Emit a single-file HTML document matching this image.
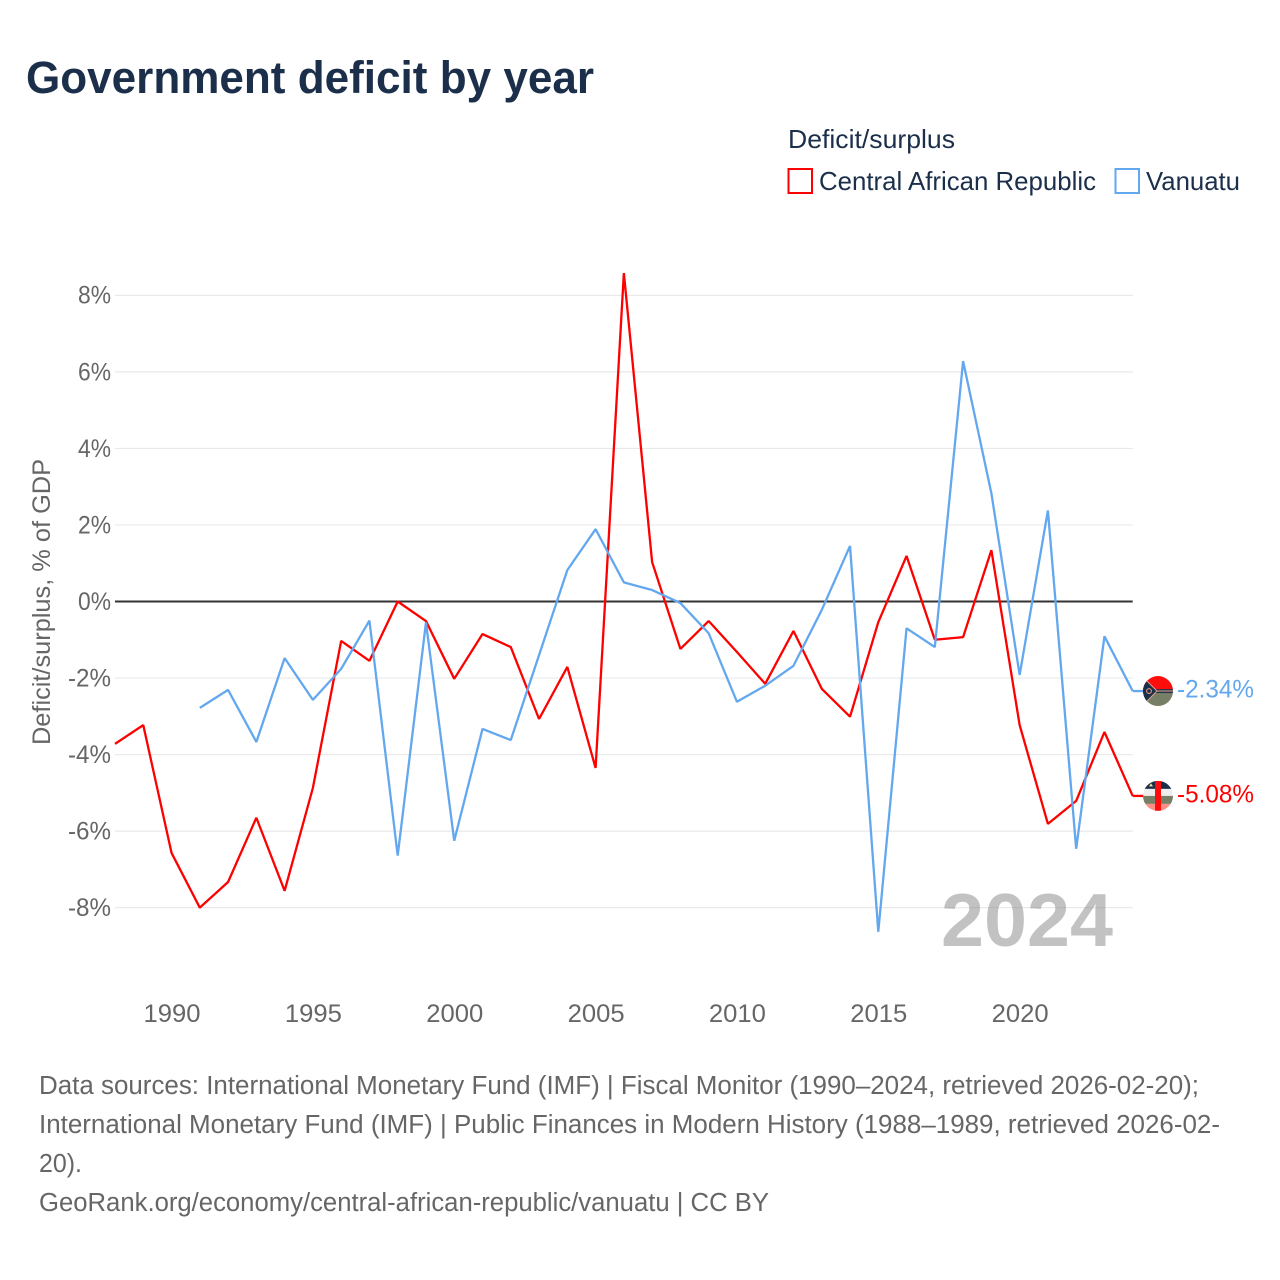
<!DOCTYPE html>
<html lang="en">
<head>
<meta charset="utf-8">
<title>Government deficit by year</title>
<style>
html,body{margin:0;padding:0;background:#fff;width:1280px;height:1280px;overflow:hidden}
svg{display:block;font-family:"Liberation Sans",sans-serif}
</style>
</head>
<body>
<svg id="chart" xmlns="http://www.w3.org/2000/svg" width="1280" height="1280" viewBox="0 0 1280 1280">
  <rect width="1280" height="1280" fill="#fff"/>
  <text x="26" y="93" font-size="45" font-weight="700" fill="#1b2f4b" textLength="568" lengthAdjust="spacingAndGlyphs">Government deficit by year</text>

  <g fill="#1b2f4b" font-size="26">
    <text x="788" y="148" textLength="167" lengthAdjust="spacingAndGlyphs">Deficit/surplus</text>
    <rect x="788.5" y="169" width="23.5" height="24" fill="#fff" stroke="#ff0000" stroke-width="2"/>
    <text x="819" y="190" textLength="277" lengthAdjust="spacingAndGlyphs">Central African Republic</text>
    <rect x="1115.5" y="169" width="23.5" height="24" fill="#fff" stroke="#63a8ee" stroke-width="2"/>
    <text x="1146" y="190" textLength="94" lengthAdjust="spacingAndGlyphs">Vanuatu</text>
  </g>

  <text transform="translate(50,602) rotate(-90)" text-anchor="middle" font-size="25" fill="#666" textLength="286" lengthAdjust="spacingAndGlyphs">Deficit/surplus, % of GDP</text>

  <g id="grid"></g>
  <g id="yticks"></g>
  <g id="xticks"></g>

  <text x="941" y="946" font-size="75" font-weight="700" fill="#808080" fill-opacity="0.48" textLength="172" lengthAdjust="spacingAndGlyphs">2024</text>

  <g id="series"></g>
  <g id="ends"></g>

  <g font-size="25.5" fill="#666">
    <text x="39" y="1094" textLength="1160" lengthAdjust="spacingAndGlyphs">Data sources: International Monetary Fund (IMF) | Fiscal Monitor (1990–2024, retrieved 2026-02-20);</text>
    <text x="39" y="1133" textLength="1181" lengthAdjust="spacingAndGlyphs">International Monetary Fund (IMF) | Public Finances in Modern History (1988–1989, retrieved 2026-02-</text>
    <text x="39" y="1172" textLength="43" lengthAdjust="spacingAndGlyphs">20).</text>
    <text x="39" y="1211" textLength="730" lengthAdjust="spacingAndGlyphs">GeoRank.org/economy/central-african-republic/vanuatu | CC BY</text>
  </g>
</svg>
<script>
const years = [1988,1989,1990,1991,1992,1993,1994,1995,1996,1997,1998,1999,2000,2001,2002,2003,2004,2005,2006,2007,2008,2009,2010,2011,2012,2013,2014,2015,2016,2017,2018,2019,2020,2021,2022,2023,2024];
const carValues = [-3.72,-3.23,-6.57,-8.0,-7.33,-5.65,-7.56,-4.87,-1.03,-1.55,0,-0.51,-2.02,-0.85,-1.19,-3.07,-1.71,-4.35,8.58,1.03,-1.24,-0.51,-1.32,-2.15,-0.77,-2.28,-3.01,-0.54,1.19,-1.0,-0.93,1.34,-3.23,-5.81,-5.21,-3.41,-5.08];
const vanuatuValues = [null,null,null,-2.78,-2.31,-3.67,-1.48,-2.57,-1.76,-0.5,-6.64,-0.55,-6.25,-3.33,-3.62,-1.4,0.82,1.89,0.5,0.3,-0.04,-0.83,-2.62,-2.2,-1.68,-0.22,1.45,-8.63,-0.7,-1.19,6.28,2.83,-1.92,2.38,-6.46,-0.91,-2.34];
const xTickYears = [1990,1995,2000,2005,2010,2015,2020];
const yTickValues = [8,6,4,2,0,-2,-4,-6,-8];

const NS = 'http://www.w3.org/2000/svg';
const xScale = function (year) { return 115 + (year - 1988) * 28.27; };
const yScale = function (value) { return 601.5 - value * 38.27; };
const plotLeft = xScale(1988);
const plotRight = xScale(2024);

function make(tag, attrs, parent, text) {
  const el = document.createElementNS(NS, tag);
  Object.keys(attrs).forEach(function (k) { el.setAttribute(k, attrs[k]); });
  if (text !== undefined) el.textContent = text;
  parent.appendChild(el);
  return el;
}

const gridGroup = document.getElementById('grid');
const yTickGroup = document.getElementById('yticks');
yTickValues.forEach(function (v) {
  const y = yScale(v);
  if (v !== 0) {
    const line = make('line', {x1: plotLeft, x2: plotRight, y1: y, y2: y, stroke: '#e9e9e9', 'stroke-width': 1.2}, gridGroup);
    
    
  }
  const label = v + '%';
  const tick = make('text', {x: 111, y: y + 8.4, 'text-anchor': 'end', 'font-size': 25, fill: '#666', textLength: v < 0 ? 43 : 33, lengthAdjust: 'spacingAndGlyphs'}, yTickGroup, label);
  
  
});
const zero = make('line', {x1: plotLeft, x2: plotRight, y1: yScale(0), y2: yScale(0), stroke: '#333', 'stroke-width': 2}, gridGroup);



const xTickGroup = document.getElementById('xticks');
xTickYears.forEach(function (yr) {
  const tick = make('text', {x: xScale(yr) + 0.5, y: 1022, 'text-anchor': 'middle', 'font-size': 25, fill: '#666', textLength: 57, lengthAdjust: 'spacingAndGlyphs'}, xTickGroup, String(yr));
  
  
});

function linePath(values) {
  let d = '';
  let pen = false;
  values.forEach(function (v, i) {
    if (v === null) { pen = false; return; }
    d += (pen ? 'L' : 'M') + xScale(years[i]).toFixed(2) + ' ' + yScale(v).toFixed(2);
    pen = true;
  });
  return d;
}

const seriesGroup = document.getElementById('series');
const endsGroup = document.getElementById('ends');

const carLine = make('path', {d: linePath(carValues), fill: 'none', stroke: '#ff0000', 'stroke-width': 2.3, 'stroke-linejoin': 'bevel'}, seriesGroup);



const vanLine = make('path', {d: linePath(vanuatuValues), fill: 'none', stroke: '#63a8ee', 'stroke-width': 2.3, 'stroke-linejoin': 'bevel'}, seriesGroup);



function endPiece(value, color, clipId) {
  const y = yScale(value);
  const stub = make('line', {x1: plotRight, x2: plotRight + 12, y1: y, y2: y, stroke: color, 'stroke-width': 2.3}, endsGroup);
  
  
  const clip = make('clipPath', {id: clipId}, endsGroup);
  make('circle', {cx: 0, cy: 0, r: 15}, clip);
  const g = make('g', {transform: 'translate(1158,' + y.toFixed(2) + ')'}, endsGroup);
  const label = make('text', {x: 1177, y: y + 6.5, 'font-size': 25, fill: color, textLength: 77, lengthAdjust: 'spacingAndGlyphs'}, endsGroup, value.toFixed(2) + '%');
  
  
  return make('g', {'clip-path': 'url(#' + clipId + ')'}, g);
}

const vanFlag = endPiece(vanuatuValues[vanuatuValues.length - 1], '#63a8ee', 'clip-van');


make('rect', {x: -15, y: -15, width: 30, height: 14, fill: '#ff0d0d'}, vanFlag);
make('rect', {x: -15, y: 1, width: 30, height: 14, fill: '#777f66'}, vanFlag);
make('rect', {x: -15, y: -2, width: 30, height: 4, fill: '#25344a'}, vanFlag);
make('path', {d: 'M-15 -15L-2 0L-15 15Z', fill: '#1b2f4b'}, vanFlag);
make('path', {d: 'M-11 -10L-1 0L-11 10M-1 0H15', fill: 'none', stroke: '#e8a090', 'stroke-width': 1}, vanFlag);
make('circle', {cx: -9, cy: 0, r: 2.4, fill: 'none', stroke: '#f09a80', 'stroke-width': 1}, vanFlag);

const carFlag = endPiece(carValues[carValues.length - 1], '#ff0000', 'clip-car');


make('rect', {x: -15, y: -15, width: 30, height: 8, fill: '#1b2f4b'}, carFlag);
make('rect', {x: -15, y: -7, width: 30, height: 7, fill: '#eeeeee'}, carFlag);
make('rect', {x: -15, y: 0, width: 30, height: 8, fill: '#777f66'}, carFlag);
make('rect', {x: -15, y: 8, width: 30, height: 7, fill: '#ff8f85'}, carFlag);
make('rect', {x: -3, y: -15, width: 6, height: 30, fill: '#ff0d0d'}, carFlag);
make('path', {d: 'M-9 -9.5l2 -3l2 3Z', fill: '#f5e9a0'}, carFlag);
</script>
</body>
</html>
